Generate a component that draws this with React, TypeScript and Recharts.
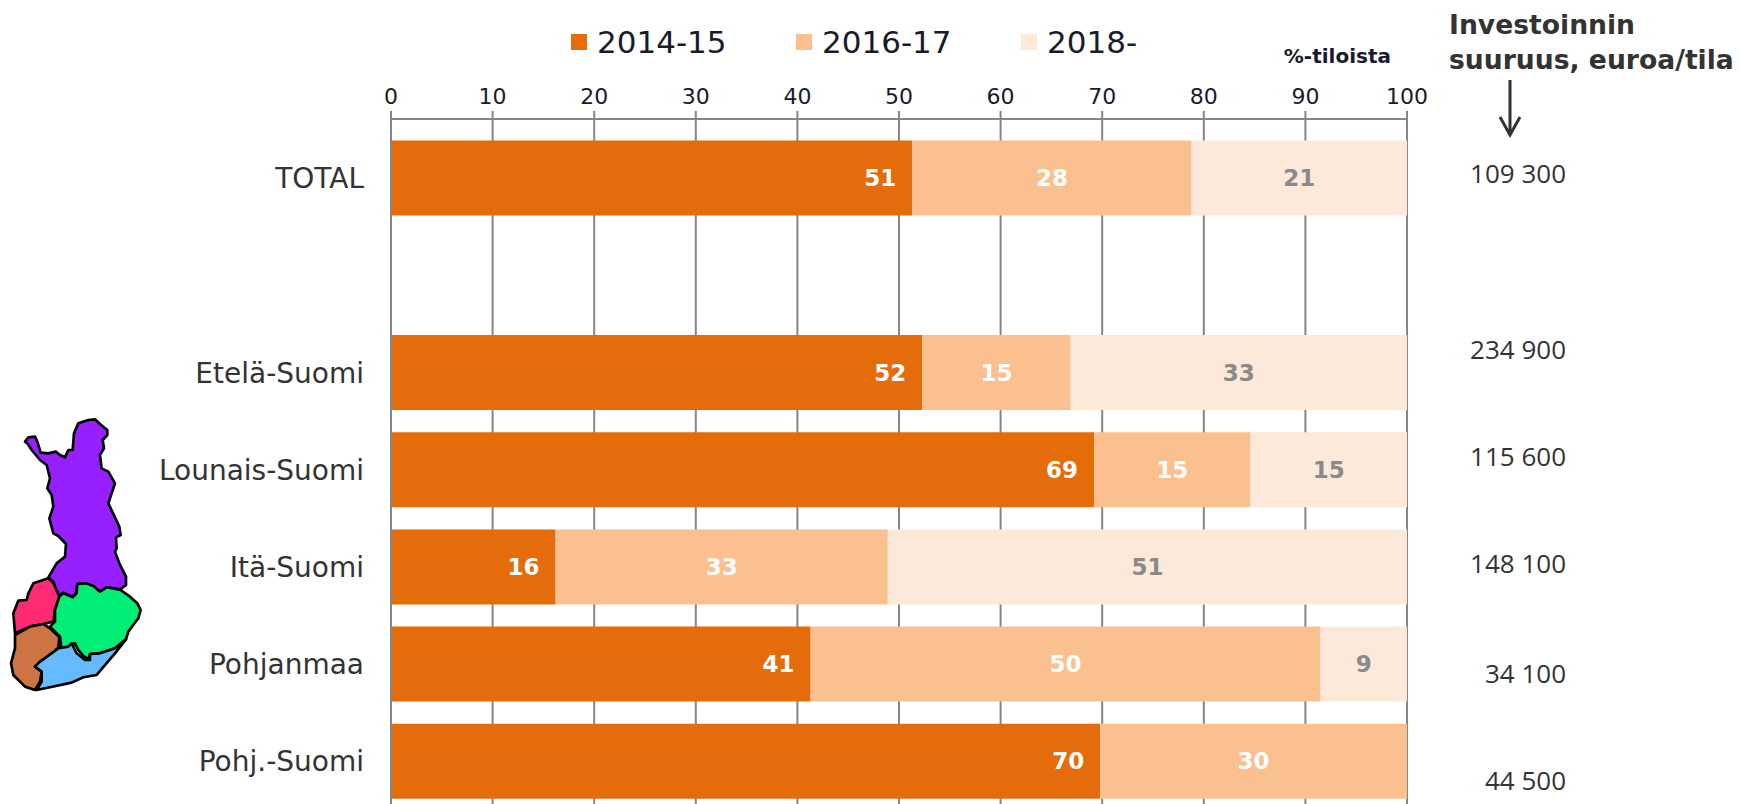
import { BarChart, Bar, XAxis, YAxis, CartesianGrid, Legend, LabelList } from 'recharts'

const categories = ['TOTAL', ' ', 'Etelä-Suomi', 'Lounais-Suomi', 'Itä-Suomi', 'Pohjanmaa', 'Pohj.-Suomi']
const series2014 = [51.3, null, 52.3, 69.2, 16.2, 41.3, 69.8]
const series2016 = [27.5, null, 14.6, 15.4, 32.7, 50.2, 30.2]
const series2018 = [21.2, null, 33.1, 15.4, 51.1, 8.5, 0]
const xTicks = [0, 10, 20, 30, 40, 50, 60, 70, 80, 90, 100]
const amounts = ['109 300', '234 900', '115 600', '148 100', '34 100', '44 500']
const amountRows = [174, 350, 457, 564, 674, 781]

const COLORS = { a: '#E46C0A', b: '#FAC090', c: '#FDE9D9' }
const GRID = '#868686'
const FONT = '"DejaVu Sans", Verdana, sans-serif'

const data = categories.map((name, i) => ({
  name,
  a: series2014[i],
  b: series2016[i],
  c: series2018[i]
}))

const showValue = (v: any) => (v ? Math.round(v) : '')

// Legend is laid out by hand because the items sit on a fixed 225px step
const renderLegend = ({ payload }: any) => (
  <div style={{ position: 'relative', width: 700, height: 40, fontFamily: FONT, fontSize: 31, color: '#1a1a2a' }}>
    {payload.map((item: any, i: number) => (
      <div key={i} style={{ position: 'absolute', left: i * 225, top: 0, display: 'flex', alignItems: 'center', height: 40 }}>
        <div style={{ width: 16, height: 16, backgroundColor: item.color, marginRight: 10 }} />
        <span>{item.value}</span>
      </div>
    ))}
  </div>
)

function FinlandMap() {
  return (
    <g transform="translate(0 400) scale(0.3333)" stroke="#000" strokeWidth={8} strokeLinejoin="round">
      <path fill="#9620FF" d="M75,125 L85,112 105,110 112,125 122,158 145,160 168,155 180,165 195,172 205,150 218,150 222,100 235,70 265,60 285,58 300,72 322,90 322,105 308,120 312,145 300,165 305,205 325,215 345,250 325,310 358,380 362,405 348,412 350,445 345,455 358,490 378,530 378,555 362,568 320,562 300,575 280,558 255,550 232,552 228,580 218,590 190,578 172,590 160,545 145,532 170,490 195,470 198,432 175,408 160,400 148,355 160,320 155,285 142,265 150,235 140,195 120,180 95,150 82,130 Z" />
      <path fill="#FF2C74" d="M145,535 100,550 85,580 80,600 55,602 40,640 45,700 90,680 130,672 160,665 165,630 178,590 160,548 Z" />
      <path fill="#00EE76" d="M178,590 190,580 218,592 230,580 232,552 258,550 280,558 300,575 320,562 362,570 390,590 412,610 422,630 415,655 385,695 378,718 345,745 300,760 270,762 265,778 250,768 235,750 225,730 205,740 185,750 180,710 150,680 165,665 165,630 Z" />
      <path fill="#CD7444" d="M45,705 90,680 130,672 150,685 178,712 175,742 150,768 120,785 105,800 125,815 120,845 105,870 75,860 40,825 33,790 45,745 Z" />
      <path fill="#66BBFF" d="M105,800 120,785 175,745 205,740 215,730 230,760 255,780 270,780 270,762 300,760 345,745 378,718 345,760 290,825 250,832 215,848 150,862 110,870 125,845 125,815 Z" />
    </g>
  )
}

export default function App() {
  return (
    <div style={{ position: 'absolute', left: 0, top: 0, width: 1740, height: 804, overflow: 'hidden', background: '#fff' }}>
      <BarChart
        width={1740}
        height={830}
        data={data}
        layout="vertical"
        barSize={75}
        margin={{ top: 0, right: 333, bottom: 20, left: 0 }}
      >
        <CartesianGrid horizontal={false} stroke={GRID} strokeWidth={2} />
        <XAxis
          type="number"
          orientation="top"
          domain={[0, 100]}
          ticks={xTicks}
          height={119}
          interval={0}
          tickSize={8}
          tickMargin={7}
          stroke={GRID}
          strokeWidth={2}
          tick={{ fontSize: 22, fontFamily: FONT, fill: '#1a1a2a' }}
        />
        <YAxis
          type="category"
          dataKey="name"
          width={391}
          interval={0}
          padding={{ top: 10.6, bottom: 0 }}
          axisLine={{ stroke: GRID, strokeWidth: 2 }}
          tickLine={false}
          tickMargin={21}
          tick={{ fontSize: 28, fontFamily: FONT, fill: '#333' }}
        />
        <Legend
          content={renderLegend}
          layout="horizontal"
          verticalAlign="middle"
          align="center"
          wrapperStyle={{ top: 22, left: 571, width: 700 }}
        />
        <Bar dataKey="a" name="2014-15" stackId="s" fill={COLORS.a} isAnimationActive={false}>
          <LabelList dataKey="a" position="insideRight" offset={16} formatter={showValue} fill="#fff" fontSize={23} fontWeight={700} fontFamily={FONT} />
        </Bar>
        <Bar dataKey="b" name="2016-17" stackId="s" fill={COLORS.b} isAnimationActive={false}>
          <LabelList dataKey="b" position="center" formatter={showValue} fill="#fff" fontSize={23} fontWeight={700} fontFamily={FONT} />
        </Bar>
        <Bar dataKey="c" name="2018-" stackId="s" fill={COLORS.c} isAnimationActive={false}>
          <LabelList dataKey="c" position="center" formatter={showValue} fill="#8a8a8a" fontSize={23} fontWeight={700} fontFamily={FONT} />
        </Bar>
      </BarChart>

      <svg width={1740} height={804} style={{ position: 'absolute', left: 0, top: 0, pointerEvents: 'none' }}>
        <FinlandMap />
        <text x={1391} y={63} textAnchor="end" fontFamily={FONT} fontSize={20} fontWeight={700} fill="#1a1a2a">%-tiloista</text>
        <text x={1449} y={34} fontFamily={FONT} fontSize={26.6} fontWeight={700} fill="#333">Investoinnin</text>
        <text x={1449} y={69} fontFamily={FONT} fontSize={26.6} fontWeight={700} fill="#333">suuruus, euroa/tila</text>
        <path d="M1510,80 V134 M1500,117 L1510,135 1520,117" fill="none" stroke="#333" strokeWidth={3} />
        {amounts.map((label, i) => (
          <text key={label} x={1566} y={amountRows[i] + 9} textAnchor="end" fontFamily='"Open Sans", sans-serif' fontSize={26} fill="#333">{label}</text>
        ))}
      </svg>
    </div>
  )
}
